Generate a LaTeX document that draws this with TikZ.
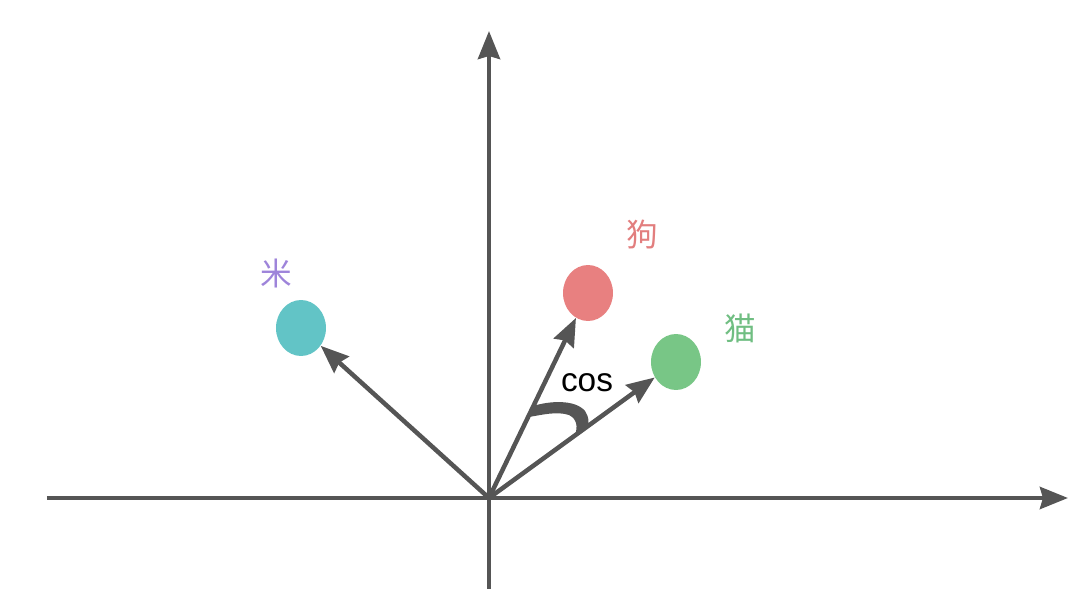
\documentclass[tikz,border=0pt]{standalone}
\usepackage{fontspec}
\setmainfont{Liberation Sans}
\newfontfamily\cjk{Noto Sans CJK SC}
\usetikzlibrary{shapes.geometric,arrows.meta}

\definecolor{axisgray}{RGB}{85,85,85}
\definecolor{riceteal}{RGB}{98,196,198}
\definecolor{dogred}{RGB}{232,128,128}
\definecolor{catgreen}{RGB}{120,198,134}
\definecolor{ricepurple}{RGB}{158,132,218}
\definecolor{doglabel}{RGB}{226,126,126}
\definecolor{catlabel}{RGB}{112,190,130}

\tikzset{
  vec/.style={draw=axisgray, line width=0.09cm,
    -{Stealth[length=0.56cm, width=0.44cm, inset=0.06cm]}},
  dot/.style={ellipse, draw=none, inner sep=0pt,
    minimum width=1cm, minimum height=1.12cm},
  word/.style={font=\cjk\fontsize{18}{20}\selectfont}
}

\begin{document}
\begin{tikzpicture}[x=0.02cm, y=0.02cm]
    \useasboundingbox (-489,-91) rectangle (591,498);

    % 坐标轴
    \coordinate (O) at (0,0);
    \coordinate (xl) at (-442,0);
    \coordinate (xr) at (579,0);
    \coordinate (yb) at (0,-91);
    \coordinate (yt) at (0,467);
    \draw[vec] (xl) -- (xr);
    \draw[vec] (yb) -- (yt);

    % 词向量
    \node[dot, fill=riceteal] (rice) at (-188,170) {};
    \node[dot, fill=dogred] (dog) at (99,205) {};
    \node[dot, fill=catgreen] (cat) at (187,136) {};

    \node[word, text=ricepurple] (ricetext) at (-213,225) {米};
    \node[word, text=doglabel] (dogtext) at (153,263) {狗};
    \node[word, text=catlabel] (cattext) at (251,170) {猫};

    % 箭头
    \draw[vec] (O) -- (rice);
    \draw[vec] (O) -- (dog);
    \draw[vec] (O) -- (cat);

    % 夹角
    \fill[axisgray] (44,92) .. controls (60,97) and (86,99) .. (96,87)
      .. controls (100,81) and (100,76) .. (99,72) -- (86,63)
      .. controls (89,71) and (88,79) .. (80,83)
      .. controls (68,87) and (52,83) .. (40,81) -- cycle;
    \node[font=\fontsize{19}{20}\selectfont] (cos) at (98,115) {cos};
\end{tikzpicture}
\end{document}
